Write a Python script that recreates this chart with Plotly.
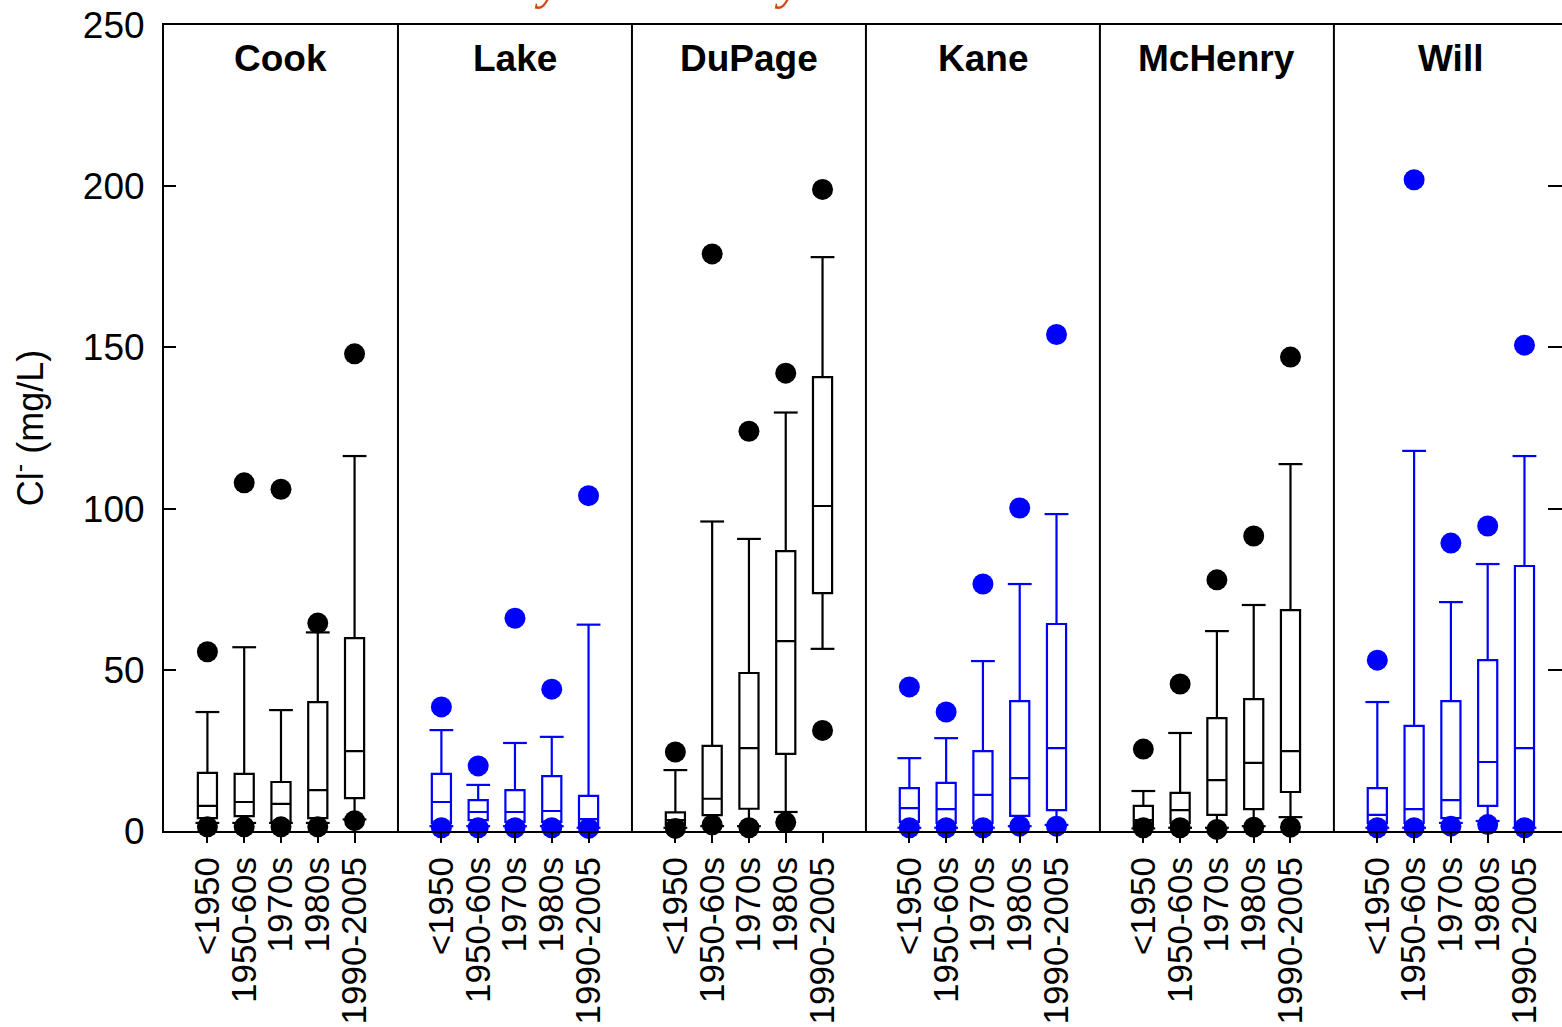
import plotly.graph_objects as go

counties = ["Cook", "Lake", "DuPage", "Kane", "McHenry", "Will"]
periods = ["<1950", "1950-60s", "1970s", "1980s", "1990-2005"]
colors = ["#000000", "#0000FF", "#000000", "#0000FF", "#000000", "#0000FF"]

# statistics (mg/L)
cook_hi_dot = [55.6, 108, 106, 64.5, 148]
cook_cap_hi = [36.9, 57, 37.5, 61.6, 116.3]
cook_q3 = [18, 17.7, 15.2, 40, 59.8]
cook_med = [7.8, 9, 8.4, 12.7, 24.8]
cook_q1 = [4, 4.6, 2.8, 4, 10.2]
cook_cap_lo = [2.5, 2.5, 2.5, 2.5, 3.6]
cook_lo_dot = [1.3, 1.3, 1.3, 1.3, 3.2]

lake_hi_dot = [38.5, 20.2, 66, 44, 104]
lake_cap_hi = [31.3, 14.3, 27.3, 29.2, 64]
lake_q3 = [17.7, 9.6, 12.7, 17, 10.9]
lake_med = [9, 5.9, 5.9, 6.2, 3.7]
lake_q1 = [2.5, 3.4, 2.8, 2.8, 1.5]
lake_cap_lo = [1.5, 1.5, 1.5, 1.5, 1]
lake_lo_dot = [1, 1, 1, 1, 0.8]

dupage_hi_dot = [24.5, 179, 124, 142, 199]
dupage_cap_hi = [18.9, 96, 90.6, 129.8, 178]
dupage_q3 = [5.8, 26.4, 49, 86.8, 140.8]
dupage_med = [3.4, 10, 25.7, 58.9, 100.8]
dupage_q1 = [1.8, 4.9, 6.9, 23.9, 73.8]
dupage_cap_lo = [1, 1.5, 1.5, 5.9, 56.5]
dupage_lo_dot = [0.8, 1.9, 1, 2.7, 31.2]

kane_hi_dot = [44.7, 36.9, 76.6, 100.2, 154]
kane_cap_hi = [22.6, 28.8, 52.7, 76.6, 98.3]
kane_q3 = [13.3, 14.9, 24.8, 40.3, 64.2]
kane_med = [7.1, 6.8, 11.2, 16.4, 25.7]
kane_q1 = [2.8, 2.5, 2.5, 4.7, 6.5]
kane_cap_lo = [1, 1, 1, 1.5, 1.9]
kane_lo_dot = [1, 1, 1, 1.5, 1.5]

mchenry_hi_dot = [25.4, 45.6, 77.9, 91.5, 147]
mchenry_cap_hi = [12.4, 30.4, 62, 70.1, 113.8]
mchenry_q3 = [7.8, 11.8, 35, 40.9, 68.5]
mchenry_med = [3.4, 6.5, 15.8, 21.1, 24.8]
mchenry_q1 = [1.5, 2.5, 5, 6.8, 12.1]
mchenry_cap_lo = [0.8, 1, 1, 1.5, 4.3]
mchenry_lo_dot = [1, 1, 0.5, 1.2, 1.2]

will_hi_dot = [53, 202, 89.3, 94.6, 150.7]
will_cap_hi = [40, 117.9, 71, 82.8, 116.3]
will_q3 = [13.3, 32.6, 40.3, 53, 82.2]
will_med = [5, 6.8, 9.6, 21.4, 25.7]
will_q1 = [2.5, 2.5, 4, 7.8, 1.5]
will_cap_lo = [1, 1, 2.5, 3.1, 1]
will_lo_dot = [1, 1, 1.5, 2, 1]

stats = [
    (cook_cap_lo, cook_q1, cook_med, cook_q3, cook_cap_hi, cook_lo_dot, cook_hi_dot),
    (lake_cap_lo, lake_q1, lake_med, lake_q3, lake_cap_hi, lake_lo_dot, lake_hi_dot),
    (dupage_cap_lo, dupage_q1, dupage_med, dupage_q3, dupage_cap_hi, dupage_lo_dot, dupage_hi_dot),
    (kane_cap_lo, kane_q1, kane_med, kane_q3, kane_cap_hi, kane_lo_dot, kane_hi_dot),
    (mchenry_cap_lo, mchenry_q1, mchenry_med, mchenry_q3, mchenry_cap_hi, mchenry_lo_dot, mchenry_hi_dot),
    (will_cap_lo, will_q1, will_med, will_q3, will_cap_hi, will_lo_dot, will_hi_dot),
]

STRIDE = 6.36
FONT = "Liberation Sans, Arial, sans-serif"

fig = go.Figure()
tickvals, ticktext = [], []
for g, (county, col, st) in enumerate(zip(counties, colors, stats)):
    lo, q1, med, q3, hi, lod, hid = st
    xs = [g * STRIDE + i for i in range(len(periods))]
    tickvals += xs
    ticktext += periods
    fig.add_trace(go.Box(
        x=xs, q1=q1, median=med, q3=q3, lowerfence=lo, upperfence=hi,
        width=0.52, whiskerwidth=0, boxpoints=False,
        line=dict(color=col, width=2.2), fillcolor="rgba(255,255,255,0)",
        showlegend=False, hoverinfo="skip"))
    # whisker caps
    fig.add_trace(go.Scatter(
        x=xs + xs, y=lo + hi, mode="markers",
        marker=dict(symbol="line-ew", size=17, line=dict(color=col, width=2.2)),
        showlegend=False, hoverinfo="skip", cliponaxis=False))
    # 5th / 95th percentile dots
    fig.add_trace(go.Scatter(
        x=xs + xs, y=lod + hid, mode="markers",
        marker=dict(symbol="circle", size=21, color=col),
        showlegend=False, hoverinfo="skip", cliponaxis=False))
    fig.add_annotation(x=g * STRIDE + 2, y=239.5, xref="x", yref="y",
                       text=county, showarrow=False,
                       font=dict(family=FONT, size=37, color="black", weight="bold"))

# panel dividers between counties
for g in range(1, len(counties)):
    xd = ((g - 1) * STRIDE + len(periods) - 1 + g * STRIDE) / 2
    fig.add_shape(type="line", xref="x", yref="paper", x0=xd, x1=xd, y0=0, y1=1,
                  line=dict(color="black", width=2))

# empty trace to carry the right-hand tick axis
fig.add_trace(go.Scatter(x=[], y=[], yaxis="y2", showlegend=False))

# cropped title remnants
for xa in [0.2634, 0.4465]:
    fig.add_annotation(x=xa, y=1.0, xref="paper", yref="paper", yshift=14,
                       text="y", showarrow=False, yanchor="bottom",
                       font=dict(family="Liberation Serif", size=50, color="#D24A12", style="italic"))

fig.update_layout(
    width=1562, height=1027,
    margin=dict(l=164, r=0, t=25, b=196),
    paper_bgcolor="white", plot_bgcolor="white",
    boxmode="overlay",
    xaxis=dict(range=[-1.18, 36.82], tickvals=tickvals, ticktext=ticktext,
               tickangle=-90, ticks="outside", ticklen=10, tickwidth=2, tickcolor="black",
               showline=True, linecolor="black", linewidth=2, mirror=True,
               showgrid=False, zeroline=False,
               tickfont=dict(family=FONT, size=35, color="black")),
    yaxis=dict(range=[0, 250], tickvals=[0, 50, 100, 150, 200, 250],
               ticks="inside", ticklen=12, tickwidth=2, tickcolor="black",
               showline=True, linecolor="black", linewidth=2,
               showgrid=False, zeroline=False, ticklabelstandoff=10,
               tickfont=dict(family=FONT, size=37, color="black"),
               title=dict(text="Cl<sup>-</sup> (mg/L)", standoff=28,
                          font=dict(family=FONT, size=36, color="black"))),
    yaxis2=dict(range=[0, 250], overlaying="y", side="right",
                tickvals=[0, 50, 100, 150, 200, 250], showticklabels=False,
                ticks="inside", ticklen=14, tickwidth=2, tickcolor="black",
                showline=False, showgrid=False, zeroline=False),
)

fig.write_html("out.html")
